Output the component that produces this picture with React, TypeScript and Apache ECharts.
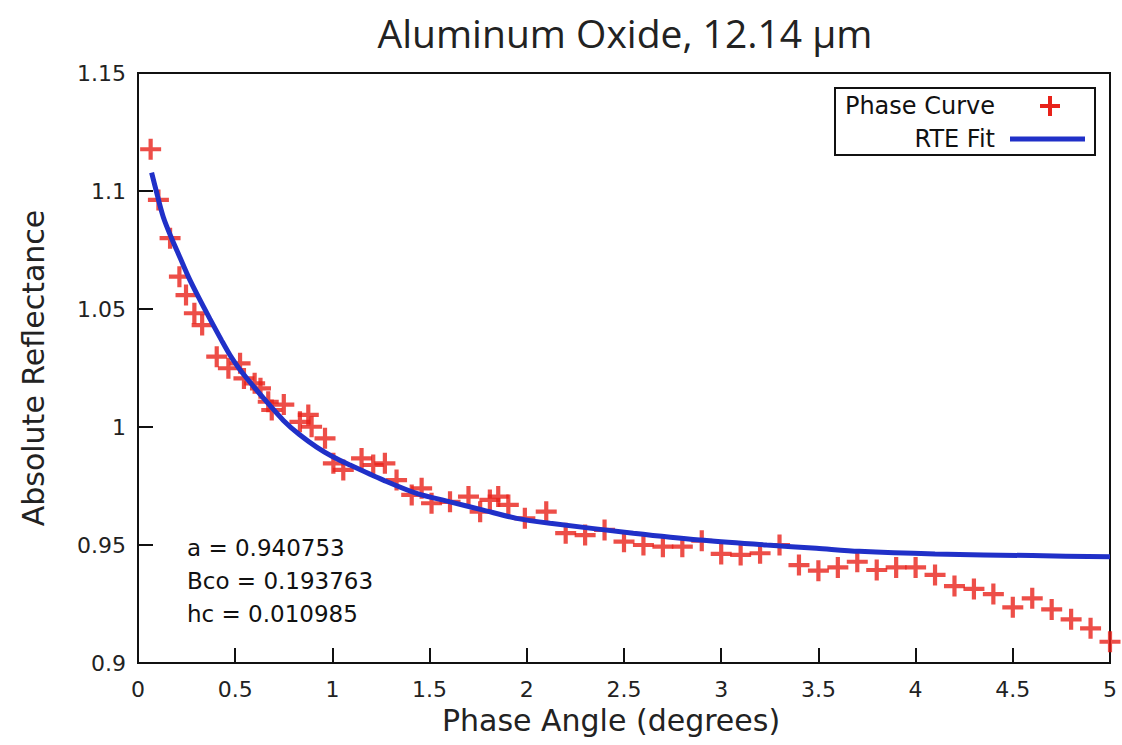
import React, { useEffect, useRef } from "react";
import * as echarts from "echarts";

// Measured phase curve (phase angle in degrees, absolute reflectance)
const phaseAngles = [
  0.065, 0.105, 0.165, 0.213, 0.247, 0.29, 0.33, 0.405, 0.465, 0.525, 0.545,
  0.6, 0.63, 0.67, 0.688, 0.75, 0.833, 0.876, 0.893, 0.962, 1.005, 1.056,
  1.15, 1.21, 1.27, 1.33, 1.408, 1.459, 1.51, 1.605, 1.7, 1.76, 1.81, 1.853,
  1.905, 1.99, 2.1, 2.2, 2.3, 2.4, 2.5, 2.6, 2.7, 2.8, 2.9, 3.0, 3.1, 3.2,
  3.3, 3.4, 3.5, 3.6, 3.7, 3.8, 3.9, 4.0, 4.1, 4.2, 4.3, 4.4, 4.5, 4.6, 4.7,
  4.8, 4.9, 5.0,
];
const reflectance = [
  1.1177, 1.0962, 1.08, 1.0637, 1.0559, 1.0482, 1.0432, 1.0298, 1.0249, 1.027,
  1.0206, 1.0185, 1.0164, 1.0107, 1.0072, 1.0095, 1.0022, 1.0051, 1.0001,
  0.9952, 0.9846, 0.9818, 0.9867, 0.9839, 0.9846, 0.9775, 0.9712, 0.974,
  0.9677, 0.9683, 0.9705, 0.9641, 0.9691, 0.9705, 0.967, 0.9613, 0.9641,
  0.955, 0.9542, 0.9564, 0.9514, 0.95, 0.9493, 0.9493, 0.9518, 0.9462, 0.9458,
  0.9465, 0.95, 0.9415, 0.9391, 0.9405, 0.9429, 0.9394, 0.9405, 0.9405,
  0.9373, 0.9326, 0.9314, 0.9292, 0.9236, 0.9274, 0.9227, 0.9185, 0.9147,
  0.909,
];

// RTE model fit
const fitAngles = [
  0.07, 0.1, 0.13, 0.17, 0.216, 0.26, 0.31, 0.37, 0.43, 0.473, 0.52, 0.576,
  0.65, 0.748, 0.83, 0.919, 1.0, 1.09, 1.262, 1.433, 1.605, 1.776, 1.948,
  2.12, 2.548, 2.89, 3.234, 3.49, 3.71, 4.1, 4.6, 5.0,
];
const fitValues = [
  1.1078, 1.098, 1.089, 1.0805, 1.0718, 1.0635, 1.0552, 1.0458, 1.0367,
  1.0305, 1.0248, 1.019, 1.0118, 1.0028, 0.9968, 0.9915, 0.9875, 0.9839,
  0.9775, 0.9719, 0.9683, 0.9648, 0.9613, 0.9592, 0.955, 0.9521, 0.95, 0.9486,
  0.9473, 0.9462, 0.9455, 0.945,
];

const fitParams = ["a = 0.940753", "Bco = 0.193763", "hc = 0.010985"];

const FONT = "DejaVu Sans";
const RED = "#e8221a";
const BLUE = "#2030c8";
const PLUS = "path://M8,0h4v8h8v4h-8v8h-4v-8h-8v-4h8z";

export default function App() {
  const ref = useRef<HTMLDivElement>(null);

  useEffect(() => {
    if (!ref.current) return;
    const chart = echarts.init(ref.current, null, { renderer: "svg" });
    const measured = phaseAngles.map((x, i) => [x, reflectance[i]]);
    const fit = fitAngles.map((x, i) => [x, fitValues[i]]);

    chart.setOption({
      animation: false,
      backgroundColor: "#ffffff",
      title: {
        text: "Aluminum Oxide, 12.14 μm",
        left: 620,
        top: 8,
        textAlign: "center",
        textStyle: {
          fontFamily: "Open Sans",
          fontWeight: "normal",
          fontSize: 39,
          color: "#222",
        },
      },
      grid: {
        left: 138,
        right: 12,
        top: 73,
        bottom: 82,
        show: true,
        borderColor: "#111",
        borderWidth: 2,
        backgroundColor: "transparent",
      },
      xAxis: {
        type: "value",
        min: 0,
        max: 5,
        interval: 0.5,
        name: "Phase Angle (degrees)",
        nameLocation: "middle",
        nameGap: 42,
        nameTextStyle: {
          fontFamily: FONT,
          fontSize: 30,
          color: "#222",
          padding: [0, 26, 0, 0],
        },
        axisLine: { show: true, lineStyle: { color: "#111", width: 2 } },
        axisTick: { show: true, inside: true, length: 15, lineStyle: { color: "#111", width: 2 } },
        axisLabel: {
          fontFamily: FONT,
          fontSize: 22,
          color: "#222",
          margin: 15,
          formatter: (v: number) => String(+v.toFixed(2)),
        },
        splitLine: { show: false },
      },
      yAxis: {
        type: "value",
        min: 0.9,
        max: 1.15,
        interval: 0.05,
        name: "Absolute Reflectance",
        nameLocation: "middle",
        nameGap: 90,
        nameTextStyle: { fontFamily: FONT, fontSize: 30, color: "#222" },
        axisLine: { show: true, lineStyle: { color: "#111", width: 2 } },
        axisTick: { show: true, inside: true, length: 15, lineStyle: { color: "#111", width: 2 } },
        axisLabel: {
          fontFamily: FONT,
          fontSize: 22,
          color: "#222",
          margin: 12,
          formatter: (v: number) => String(+v.toFixed(2)),
        },
        splitLine: { show: false },
      },
      series: [
        {
          name: "Phase Curve",
          type: "scatter",
          data: measured,
          symbol: PLUS,
          symbolSize: 21,
          itemStyle: { color: RED },
          z: 2,
        },
        {
          name: "RTE Fit",
          type: "line",
          data: fit,
          smooth: 0.3,
          showSymbol: false,
          lineStyle: { color: BLUE, width: 5 },
          z: 3,
        },
      ],
      graphic: [
        {
          type: "rect",
          shape: { x: 835, y: 88, width: 260, height: 67 },
          style: { fill: "#fff", stroke: "#111", lineWidth: 2 },
          z: 10,
        },
        {
          type: "text",
          x: 995,
          y: 106,
          style: {
            text: "Phase Curve",
            align: "right",
            verticalAlign: "middle",
            fontFamily: FONT,
            fontSize: 24,
            fill: "#111",
          },
          z: 11,
        },
        {
          type: "text",
          x: 995,
          y: 139,
          style: {
            text: "RTE Fit",
            align: "right",
            verticalAlign: "middle",
            fontFamily: FONT,
            fontSize: 24,
            fill: "#111",
          },
          z: 11,
        },
        {
          type: "line",
          shape: { x1: 1040, y1: 106, x2: 1060, y2: 106 },
          style: { stroke: RED, lineWidth: 4 },
          z: 11,
        },
        {
          type: "line",
          shape: { x1: 1050, y1: 96, x2: 1050, y2: 116 },
          style: { stroke: RED, lineWidth: 4 },
          z: 11,
        },
        {
          type: "line",
          shape: { x1: 1010, y1: 139, x2: 1085, y2: 139 },
          style: { stroke: BLUE, lineWidth: 5 },
          z: 11,
        },
        ...fitParams.map((t, i) => ({
          type: "text",
          x: 187,
          y: 548 + i * 33,
          style: {
            text: t,
            verticalAlign: "middle",
            fontFamily: FONT,
            fontSize: 23,
            fill: "#111",
          },
          z: 11,
        })),
      ],
    });

    return () => chart.dispose();
  }, []);

  return (
    <div
      ref={ref}
      style={{ position: "fixed", left: 0, top: 0, width: 1122, height: 745 }}
    />
  );
}
